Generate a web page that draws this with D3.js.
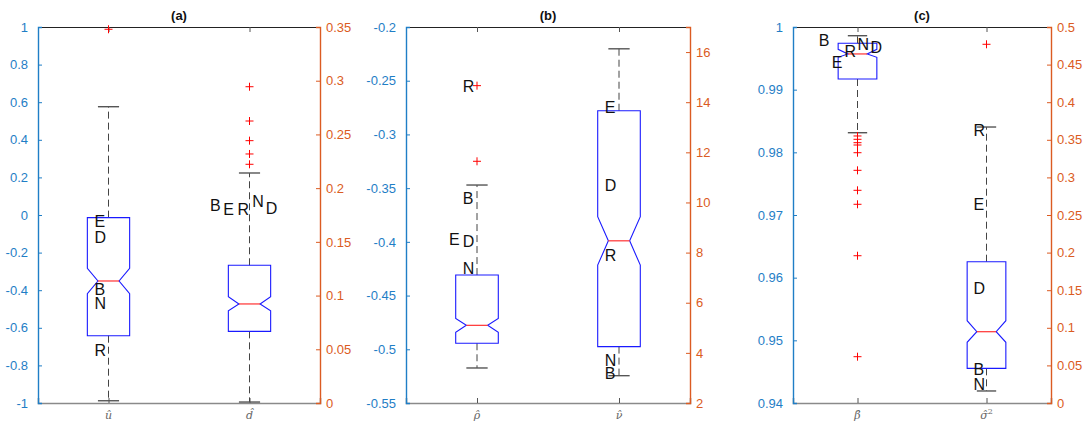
<!DOCTYPE html>
<html>
<head>
<meta charset="utf-8">
<script src="https://cdn.jsdelivr.net/npm/d3@7"></script>
<style>
  html, body { margin: 0; padding: 0; background: #fff; }
  svg { display: block; }
</style>
</head>
<body>
<svg id="chart" width="1083" height="425"></svg>
<script>
// ---- Data -------------------------------------------------------------
// Box statistics per parameter, in order:
// [lower whisker, Q1, notch low, median, notch high, Q3, upper whisker]
const uHatBox      = [-0.988, -0.642, -0.418, -0.351, -0.284, -0.014, 0.576];
const dHatBox      = [0.0009, 0.0667, 0.0859, 0.0922, 0.0990, 0.1282, 0.2141];
const rhoHatBox    = [-0.5174, -0.4944, -0.4842, -0.4777, -0.4712, -0.4309, -0.3471];
const nuHatBox     = [3.09, 4.25, 7.50, 8.47, 9.43, 13.66, 16.13];
const betaHatBox   = [0.98313, 0.9917, 0.99516, 0.9957, 0.99644, 0.9974, 0.99861];
const sigma2HatBox = [0.016, 0.0461, 0.0807, 0.0948, 0.1094, 0.1879, 0.367];

// Outliers per parameter
const uHatOut      = [0.988];
const dHatOut      = [0.2944, 0.2625, 0.2442, 0.2318, 0.2222];
const rhoHatOut    = [-0.2546, -0.325];
const nuHatOut     = [];
const betaHatOut   = [0.98261, 0.98208, 0.98154, 0.98117, 0.97994, 0.97713, 0.97394, 0.97171, 0.9635, 0.94739];
const sigma2HatOut = [0.477];

// Letter annotations: [label, value, x offset in category units]
const uHatLabels = [["E", -0.032, -0.1], ["D", -0.117, -0.1], ["B", -0.394, -0.1], ["N", -0.468, -0.1], ["R", -0.718, -0.1]];
const dHatLabels = [["B", 0.1837, -0.28], ["E", 0.1803, -0.187], ["R", 0.1803, -0.085], ["N", 0.1874, 0.019], ["D", 0.1813, 0.115]];
const rhoHatLabels = [["R", -0.2549, -0.1], ["B", -0.3595, -0.1], ["E", -0.3976, -0.197], ["D", -0.399, -0.1], ["N", -0.4246, -0.1]];
const nuHatLabels = [["E", 13.79, -0.1], ["D", 10.70, -0.1], ["R", 7.90, -0.1], ["N", 3.72, -0.1], ["B", 3.18, -0.1]];
const betaHatLabels = [["B", 0.99782, -0.3], ["N", 0.99723, 0.0], ["D", 0.99676, 0.1], ["R", 0.99617, -0.1], ["E", 0.99437, -0.2]];
const sigma2HatLabels = [["R", 0.3621, -0.1], ["E", 0.2646, -0.1], ["D", 0.1525, -0.1], ["B", 0.0448, -0.1], ["N", 0.0253, -0.1]];

// Axis domains and tick values
const panelTitles = ["(a)", "(b)", "(c)"];
const leftDomains  = [[-1, 1], [-0.55, -0.2], [0.94, 1]];
const rightDomains = [[0, 0.35], [2, 17], [0, 0.5]];
const leftTicks  = [[-1, -0.8, -0.6, -0.4, -0.2, 0, 0.2, 0.4, 0.6, 0.8, 1],
                    [-0.55, -0.5, -0.45, -0.4, -0.35, -0.3, -0.25, -0.2],
                    [0.94, 0.95, 0.96, 0.97, 0.98, 0.99, 1]];
const rightTicks = [[0, 0.05, 0.1, 0.15, 0.2, 0.25, 0.3, 0.35],
                    [2, 4, 6, 8, 10, 12, 14, 16],
                    [0, 0.05, 0.1, 0.15, 0.2, 0.25, 0.3, 0.35, 0.4, 0.45, 0.5]];
const categoryLabels = [["u\u0302", "d\u0302"], ["\u03C1\u0302", "\u03BD\u0302"], ["\u03B2\u0302", "\u03C3\u0302"]];
const categorySup = [["", ""], ["", ""], ["", "2"]];

// ---- Layout -----------------------------------------------------------
const frames = [
  { left: 38, right: 320 },
  { left: 406, right: 690 },
  { left: 793, right: 1051 }
];
const plotTop = 27, plotBottom = 403;
const boxWidth = 0.3;          // in category units
const blueC = "#1f7ec6", orangeC = "#db5b22";

const panels = [
  { series: [
      { box: uHatBox, out: uHatOut, labels: uHatLabels, side: "left" },
      { box: dHatBox, out: dHatOut, labels: dHatLabels, side: "right" } ] },
  { series: [
      { box: rhoHatBox, out: rhoHatOut, labels: rhoHatLabels, side: "left" },
      { box: nuHatBox, out: nuHatOut, labels: nuHatLabels, side: "right" } ] },
  { series: [
      { box: betaHatBox, out: betaHatOut, labels: betaHatLabels, side: "left" },
      { box: sigma2HatBox, out: sigma2HatOut, labels: sigma2HatLabels, side: "right" } ] }
];

const svg = d3.select("#chart");
const fmt = d => String(+d.toFixed(4));

panels.forEach((panel, pi) => {
  const f = frames[pi];
  const g = svg.append("g");
  const x = d3.scaleLinear().domain([0.5, 2.5]).range([f.left, f.right]);
  const yL = d3.scaleLinear().domain(leftDomains[pi]).range([plotBottom, plotTop]);
  const yR = d3.scaleLinear().domain(rightDomains[pi]).range([plotBottom, plotTop]);

  // top border
  g.append("line").attr("x1", f.left).attr("x2", f.right)
    .attr("y1", plotTop + 0.5).attr("y2", plotTop + 0.5)
    .attr("stroke", "#222").attr("stroke-width", 1);

  // bottom axis with inward category ticks
  const xb = d3.axisBottom(x).tickValues([1, 2]).tickSize(-5).tickFormat("");
  const xa = g.append("g").attr("transform", `translate(0,${plotBottom})`).call(xb);
  xa.select(".domain").attr("stroke", "#8a8a8a").attr("stroke-width", 1.6);
  xa.selectAll(".tick line").attr("stroke", "#555");
  const xt = d3.axisTop(x).tickValues([1, 2]).tickSize(-5).tickFormat("");
  const xta = g.append("g").attr("transform", `translate(0,${plotTop})`).call(xt);
  xta.select(".domain").remove();
  xta.selectAll(".tick line").attr("stroke", "#555");

  // category labels
  [1, 2].forEach((c, ci) => {
    const t = g.append("text").attr("x", x(c)).attr("y", 419)
      .attr("text-anchor", "middle")
      .attr("font-family", "'DejaVu Serif', 'Liberation Serif', serif")
      .attr("font-style", "italic").attr("font-size", 11)
      .attr("fill", "#666").text(categoryLabels[pi][ci]);
    if (categorySup[pi][ci]) {
      t.append("tspan").attr("font-size", 8).attr("dy", -5)
        .attr("font-style", "normal").text(categorySup[pi][ci]);
    }
  });

  // left axis
  const la = g.append("g").attr("transform", `translate(${f.left},0)`)
    .call(d3.axisLeft(yL).tickValues(leftTicks[pi]).tickSize(-4).tickPadding(10).tickFormat(fmt));
  la.select(".domain").attr("stroke", blueC).attr("stroke-width", 1.4);
  la.selectAll(".tick line").attr("stroke", blueC);
  la.selectAll(".tick text").attr("fill", blueC)
    .attr("font-family", "Helvetica, Arial, 'Liberation Sans', sans-serif").attr("font-size", 13);

  // right axis
  const ra = g.append("g").attr("transform", `translate(${f.right},0)`)
    .call(d3.axisRight(yR).tickValues(rightTicks[pi]).tickSize(-4).tickPadding(6).tickFormat(fmt));
  ra.select(".domain").attr("stroke", orangeC).attr("stroke-width", 1.4);
  ra.selectAll(".tick line").attr("stroke", orangeC);
  ra.selectAll(".tick text").attr("fill", orangeC)
    .attr("font-family", "Helvetica, Arial, 'Liberation Sans', sans-serif").attr("font-size", 13);

  // title
  g.append("text").attr("x", (f.left + f.right) / 2).attr("y", 20)
    .attr("text-anchor", "middle").attr("font-weight", "bold")
    .attr("font-family", "Helvetica, Arial, 'Liberation Sans', sans-serif")
    .attr("font-size", 13).attr("fill", "#111").text(panelTitles[pi]);

  // boxes
  panel.series.forEach((s, si) => {
    const pos = si + 1;
    const y = s.side === "left" ? yL : yR;
    const [wLo, q1, nLo, med, nHi, q3, wHi] = s.box;
    const cx = x(pos);
    const hw = x(pos + boxWidth / 2) - cx;   // box half-width
    const iw = hw / 2;                        // notch inner half-width
    const cw = hw / 2;                        // whisker cap half-width

    // whiskers (dashed)
    g.append("line").attr("x1", cx).attr("x2", cx)
      .attr("y1", y(q3)).attr("y2", y(wHi))
      .attr("stroke", "#444").attr("stroke-width", 1).attr("stroke-dasharray", "7,4");
    g.append("line").attr("x1", cx).attr("x2", cx)
      .attr("y1", y(q1)).attr("y2", y(wLo))
      .attr("stroke", "#444").attr("stroke-width", 1).attr("stroke-dasharray", "7,4");
    [wLo, wHi].forEach(w => {
      g.append("line").attr("x1", cx - cw).attr("x2", cx + cw)
        .attr("y1", y(w)).attr("y2", y(w))
        .attr("stroke", "#555").attr("stroke-width", 1.4);
    });

    // notched box outline
    const pts = [
      [cx - hw, y(q1)], [cx - hw, y(nLo)], [cx - iw, y(med)], [cx - hw, y(nHi)],
      [cx - hw, y(q3)], [cx + hw, y(q3)], [cx + hw, y(nHi)], [cx + iw, y(med)],
      [cx + hw, y(nLo)], [cx + hw, y(q1)]
    ];
    g.append("path").attr("d", d3.line()(pts) + "Z")
      .attr("fill", "none").attr("stroke", "#1a1aff").attr("stroke-width", 1.1);

    // median
    g.append("line").attr("x1", cx - iw).attr("x2", cx + iw)
      .attr("y1", y(med)).attr("y2", y(med))
      .attr("stroke", "#ff3030").attr("stroke-width", 1.2);

    // outliers
    s.out.forEach(o => {
      const oy = y(o);
      g.append("path").attr("d", `M${cx - 4},${oy}H${cx + 4}M${cx},${oy - 4}V${oy + 4}`)
        .attr("stroke", "#ff0000").attr("stroke-width", 1).attr("fill", "none");
    });

    // letter annotations
    s.labels.forEach(([t, v, dx]) => {
      g.append("text").attr("x", x(pos + dx)).attr("y", y(v)).attr("dy", "0.36em")
        .attr("font-family", "Helvetica, Arial, 'Liberation Sans', sans-serif")
        .attr("font-size", 16).attr("fill", "#111").text(t);
    });
  });
});
</script>
</body>
</html>
